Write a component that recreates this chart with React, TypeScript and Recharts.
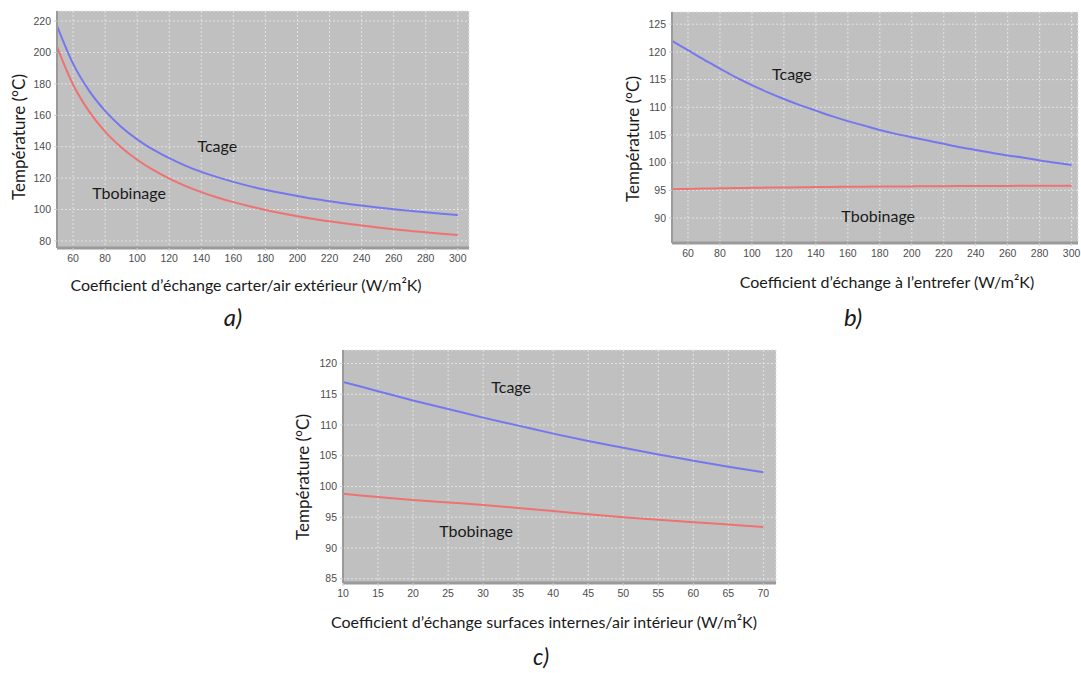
import { LineChart, Line, XAxis, YAxis, CartesianGrid, ReferenceDot } from "recharts";

// a) carter / air extérieur
const aH = [50, 60, 70, 80, 90, 100, 110, 120, 130, 140, 150, 160, 170, 180, 190, 200, 210, 220, 230, 240, 250, 260, 270, 280, 290, 300];
const aTcage = [217.0, 192.9, 175.7, 162.8, 152.7, 144.7, 138.1, 132.7, 128.0, 124.0, 120.6, 117.6, 114.9, 112.6, 110.5, 108.6, 106.8, 105.3, 103.8, 102.5, 101.3, 100.2, 99.2, 98.2, 97.3, 96.5];
const aTbob = [203.6, 179.6, 162.5, 149.6, 139.7, 131.7, 125.2, 119.7, 115.1, 111.1, 107.7, 104.7, 102.1, 99.7, 97.6, 95.7, 94.0, 92.5, 91.1, 89.8, 88.6, 87.4, 86.4, 85.5, 84.6, 83.8];
const aXTicks = [60, 80, 100, 120, 140, 160, 180, 200, 220, 240, 260, 280, 300];
const aYTicks = [80, 100, 120, 140, 160, 180, 200, 220];

// b) entrefer
const bH = [50, 60, 70, 80, 90, 100, 110, 120, 130, 140, 150, 160, 170, 180, 190, 200, 210, 220, 230, 240, 250, 260, 270, 280, 290, 300];
const bTcage = [122.0, 120.3, 118.6, 117.0, 115.4, 114.0, 112.7, 111.5, 110.4, 109.4, 108.4, 107.5, 106.7, 105.9, 105.2, 104.6, 104.0, 103.4, 102.8, 102.3, 101.8, 101.3, 100.9, 100.4, 100.0, 99.6];
const bTbob = [95.2, 95.26, 95.32, 95.37, 95.42, 95.46, 95.5, 95.53, 95.56, 95.59, 95.62, 95.64, 95.66, 95.68, 95.7, 95.72, 95.74, 95.75, 95.77, 95.78, 95.8, 95.81, 95.82, 95.83, 95.84, 95.85];
const bXTicks = [60, 80, 100, 120, 140, 160, 180, 200, 220, 240, 260, 280, 300];
const bYTicks = [90, 95, 100, 105, 110, 115, 120, 125];

// c) surfaces internes / air intérieur
const cH = [10, 15, 20, 25, 30, 35, 40, 45, 50, 55, 60, 65, 70];
const cTcage = [117.0, 115.5, 114.0, 112.6, 111.2, 109.9, 108.6, 107.4, 106.3, 105.2, 104.2, 103.2, 102.3];
const cTbob = [98.8, 98.3, 97.8, 97.4, 97.0, 96.5, 96.0, 95.5, 95.0, 94.6, 94.2, 93.8, 93.4];
const cXTicks = [10, 15, 20, 25, 30, 35, 40, 45, 50, 55, 60, 65, 70];
const cYTicks = [85, 90, 95, 100, 105, 110, 115, 120];

const rows = (h: number[], tc: number[], tb: number[]) =>
  h.map((v, i) => ({ h: v, tcage: tc[i], tbob: tb[i] }));

const BLUE = "#7676ee";
const RED = "#ee7272";
const tickStyle = { fontSize: 10.5, fill: "#4d4d4d", fontFamily: "Liberation Sans, Arial, sans-serif" };
const titleFont = "Lato, 'Open Sans', sans-serif";
const inLabel = { fontSize: 16, fill: "#1a1a1a", fontFamily: titleFont };

type PanelProps = {
  left: number;
  top: number;
  width: number;
  height: number;
  yAxisWidth: number;
  margin: { top: number; right: number; left: number; bottom: number };
  xAxisHeight: number;
  data: { h: number; tcage: number; tbob: number }[];
  xDomain: [number, number];
  yDomain: [number, number];
  xTicks: number[];
  yTicks: number[];
  cageAt: [number, number];
  bobAt: [number, number];
};

function Panel(p: PanelProps) {
  return (
    <div style={{ position: "absolute", left: p.left, top: p.top }}>
      <LineChart width={p.width} height={p.height} data={p.data} margin={p.margin}>
        <CartesianGrid fill="#c0c0c0" stroke="#e2e2e2" strokeDasharray="2 2" />
        <XAxis
          dataKey="h"
          type="number"
          domain={p.xDomain}
          ticks={p.xTicks}
          allowDataOverflow
          height={p.xAxisHeight}
          tick={tickStyle}
          tickSize={3}
          tickMargin={4}
          tickLine={{ stroke: "#d0d0d0" }}
          axisLine={{ stroke: "#9a9a9a", strokeWidth: 3 }}
        />
        <YAxis
          type="number"
          domain={p.yDomain}
          ticks={p.yTicks}
          allowDataOverflow
          width={p.yAxisWidth}
          tick={tickStyle}
          tickSize={3}
          tickMargin={3}
          tickLine={{ stroke: "#d0d0d0" }}
          axisLine={{ stroke: "#9a9a9a", strokeWidth: 2 }}
        />
        <Line type="monotone" dataKey="tcage" stroke={BLUE} strokeWidth={2} dot={false} isAnimationActive={false} />
        <Line type="monotone" dataKey="tbob" stroke={RED} strokeWidth={2} dot={false} isAnimationActive={false} />
        <ReferenceDot x={p.cageAt[0]} y={p.cageAt[1]} r={0} stroke="none" fill="none" label={{ value: "Tcage", position: "center", style: inLabel }} />
        <ReferenceDot x={p.bobAt[0]} y={p.bobAt[1]} r={0} stroke="none" fill="none" label={{ value: "Tbobinage", position: "center", style: inLabel }} />
      </LineChart>
    </div>
  );
}

function Txt({ x, y, text, size = 16, rotate = false, italic = false }: { x: number; y: number; text: string; size?: number; rotate?: boolean; italic?: boolean }) {
  return (
    <div
      style={{
        position: "absolute",
        left: x,
        top: y,
        transform: `translate(-50%, -50%)${rotate ? " rotate(-90deg)" : ""}`,
        whiteSpace: "nowrap",
        fontFamily: titleFont,
        fontSize: size,
        fontStyle: italic ? "italic" : "normal",
        color: "#1a1a1a",
        lineHeight: 1,
      }}
    >
      {text}
    </div>
  );
}

export default function App() {
  return (
    <div style={{ position: "absolute", left: 0, top: 0, width: 1081, height: 673, background: "#fff", overflow: "hidden" }}>
      <Panel
        left={0}
        top={0}
        width={490}
        height={300}
        yAxisWidth={57}
        margin={{ top: 11, right: 21, left: 0, bottom: 0 }}
        xAxisHeight={52}
        data={rows(aH, aTcage, aTbob)}
        xDomain={[50, 307]}
        yDomain={[75.5, 226.4]}
        xTicks={aXTicks}
        yTicks={aYTicks}
        cageAt={[150, 140]}
        bobAt={[95, 110.5]}
      />
      <Panel
        left={600}
        top={0}
        width={481}
        height={300}
        yAxisWidth={72}
        margin={{ top: 12, right: 3, left: 0, bottom: 0 }}
        xAxisHeight={57}
        data={rows(bH, bTcage, bTbob)}
        xDomain={[50, 304]}
        yDomain={[85.5, 127.2]}
        xTicks={bXTicks}
        yTicks={bYTicks}
        cageAt={[125, 116]}
        bobAt={[179, 90.3]}
      />
      <Panel
        left={270}
        top={340}
        width={520}
        height={300}
        yAxisWidth={73}
        margin={{ top: 10, right: 14, left: 0, bottom: 0 }}
        xAxisHeight={57}
        data={rows(cH, cTcage, cTbob)}
        xDomain={[10, 71.8]}
        yDomain={[84.3, 122.2]}
        xTicks={cXTicks}
        yTicks={cYTicks}
        cageAt={[34, 116.1]}
        bobAt={[29, 92.7]}
      />

      <Txt x={246} y={285} text="Coefficient d’échange carter/air extérieur (W/m²K)" />
      <Txt x={18} y={137} text="Température (°C)" size={17} rotate />
      <Txt x={233} y={317} text="a)" size={24} italic />

      <Txt x={887} y={282} text="Coefficient d’échange à l’entrefer (W/m²K)" />
      <Txt x={632} y={139} text="Température (°C)" size={17} rotate />
      <Txt x={853} y={317} text="b)" size={24} italic />

      <Txt x={544} y={622} text="Coefficient d’échange surfaces internes/air intérieur (W/m²K)" />
      <Txt x={302} y={477} text="Température (°C)" size={17} rotate />
      <Txt x={541} y={656} text="c)" size={23} italic />
    </div>
  );
}
